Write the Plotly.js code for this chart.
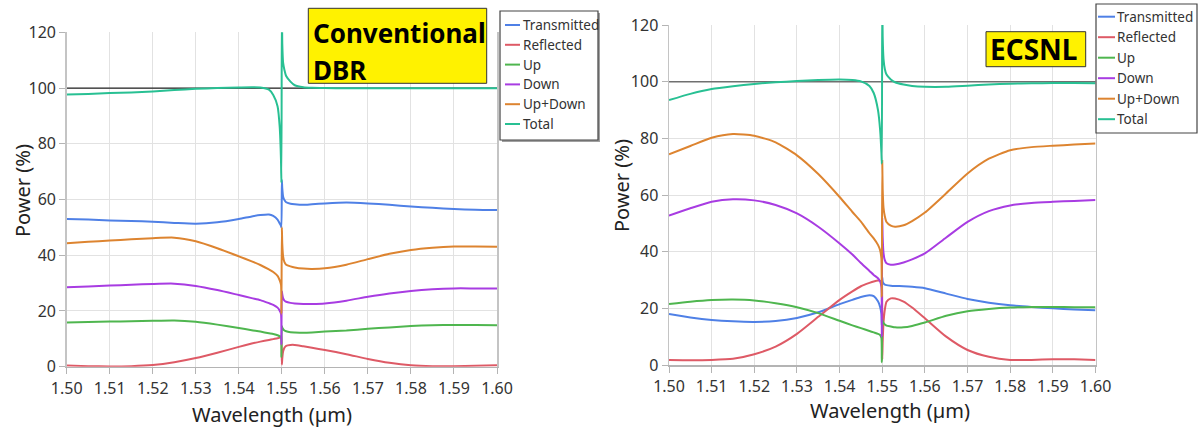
<!DOCTYPE html>
<html><head><meta charset="utf-8">
<script src="https://cdn.plot.ly/plotly-3.0.1.min.js"></script>
<style>html,body{margin:0;padding:0;background:#fff}#chart{width:1198px;height:430px}</style>
</head><body><div id="chart"></div>
<script>
// ---------------- data ----------------
const wavelength = [1.500,1.505,1.510,1.515,1.520,1.525,1.530,1.535,1.540,1.543,1.545,1.547,1.548,1.549,1.5495,1.5498,1.5499,1.5500,1.5501,1.5503,1.5506,1.551,1.552,1.553,1.555,1.557,1.560,1.565,1.570,1.575,1.580,1.585,1.590,1.595,1.600];
const seriesNames = ['Transmitted','Reflected','Up','Down','Up+Down','Total'];
const panelTitleLines = [['Conventional','DBR'],['ECSNL']];
const xTitle = 'Wavelength (µm)';
const yTitle = 'Power (%)';
const xTickVals = [1.50,1.51,1.52,1.53,1.54,1.55,1.56,1.57,1.58,1.59,1.60];
const xTickText = ['1.50','1.51','1.52','1.53','1.54','1.55','1.56','1.57','1.58','1.59','1.60'];
const yTickVals = [0,20,40,60,80,100,120];
const referenceLevel = 100;

// Conventional DBR (left)
const dbrTransmitted = [53.0,52.8,52.5,52.3,52.0,51.6,51.3,51.8,53.0,53.9,54.4,54.6,54.1,52.8,51.4,50.5,50.0,67.0,64.0,61.0,59.8,59.0,58.5,58.3,58.1,58.3,58.6,58.9,58.6,58.1,57.5,57.0,56.6,56.3,56.2];
const dbrReflected   = [0.4,0.2,0.1,0.2,0.6,1.6,3.1,5.0,7.1,8.3,9.0,9.6,9.9,10.2,10.4,10.8,11.0,0.8,3.0,5.5,6.8,7.5,7.8,7.8,7.3,6.8,6.0,4.5,2.8,1.4,0.5,0.2,0.2,0.3,0.5];
const dbrUp          = [15.9,16.0,16.2,16.3,16.5,16.6,16.1,15.1,13.9,13.1,12.6,12.0,11.7,11.3,10.9,10.4,3.5,14.5,14.0,13.5,13.0,12.7,12.4,12.3,12.2,12.3,12.6,13.0,13.6,14.1,14.6,14.9,15.0,15.0,14.9];
const dbrDown        = [28.5,28.8,29.1,29.4,29.7,29.8,29.0,27.5,25.7,24.6,23.9,22.8,22.2,21.2,20.1,19.0,8.0,27.0,26.0,24.5,23.7,23.3,22.9,22.7,22.5,22.5,22.7,23.7,25.1,26.3,27.2,27.8,28.1,28.1,28.1];
const dbrUpDown      = [44.3,44.8,45.3,45.7,46.1,46.3,45.0,42.5,39.6,37.8,36.5,34.9,34.0,32.6,31.0,29.5,19.0,50.0,44.0,39.5,37.5,36.6,36.0,35.6,35.2,35.1,35.3,36.6,38.6,40.5,41.9,42.7,43.1,43.1,43.0];
const dbrTotal       = [97.7,97.9,98.2,98.4,98.8,99.3,99.7,100.0,100.2,100.3,100.2,99.4,97.5,93.5,86.0,74.0,66.0,130.0,116.0,109.0,106.5,104.3,102.3,101.0,100.3,100.1,100.0,99.9,99.9,99.9,99.9,99.9,99.9,99.9,99.9];

// ECSNL (right)
const ecsnlTransmitted = [18.0,16.8,15.9,15.4,15.2,15.5,16.6,18.6,21.5,23.0,24.0,24.6,24.3,22.5,20.5,18.0,14.0,31.0,29.5,28.8,28.4,28.2,28.0,27.9,27.8,27.6,27.1,25.2,23.3,22.0,21.1,20.5,20.0,19.6,19.3];
const ecsnlReflected   = [1.8,1.7,1.8,2.2,3.8,6.5,11.0,17.0,23.0,26.0,27.8,29.0,29.5,29.8,29.7,29.3,29.0,2.0,8.0,15.0,19.5,22.3,23.5,23.5,22.4,20.3,16.5,10.0,5.3,2.9,1.8,1.8,2.0,2.0,1.8];
const ecsnlUp          = [21.5,22.3,22.9,23.1,22.8,21.8,20.4,18.3,15.6,14.0,13.0,12.0,11.5,11.0,10.6,9.5,1.0,16.0,15.5,14.8,14.3,13.9,13.6,13.3,13.3,13.8,15.0,17.4,19.0,19.8,20.3,20.5,20.5,20.4,20.4];
const ecsnlDown        = [52.7,55.3,57.6,58.5,58.1,56.5,53.5,48.8,42.9,39.0,36.0,33.2,31.8,30.6,29.5,27.5,10.0,52.0,45.0,39.5,37.0,35.9,35.4,35.5,36.2,37.3,39.4,45.0,50.5,54.3,56.3,57.2,57.6,57.9,58.2];
const ecsnlUpDown      = [74.4,77.3,80.2,81.5,80.9,78.6,74.0,67.4,59.3,54.0,50.6,46.5,44.7,42.4,40.5,37.5,24.0,72.0,62.0,55.5,52.5,50.5,49.2,48.8,49.3,50.8,53.8,60.6,67.6,72.8,75.8,76.9,77.4,77.8,78.2];
const ecsnlTotal       = [93.5,95.7,97.4,98.4,99.2,99.8,100.2,100.6,100.8,100.6,100.1,98.5,96.0,90.0,83.0,75.0,71.0,130.0,116.0,108.0,104.5,102.5,100.8,99.8,99.0,98.5,98.2,98.2,98.6,99.0,99.3,99.4,99.5,99.5,99.4];

// ---------------- style ----------------
const W = 1198, H = 430;
const FONT = 'Noto Sans, Open Sans, sans-serif';
const colors = ['#4f80e6','#de5a66','#4fb64f','#a83ce2','#dd8430','#28c093'];
const px = v => v / W, py = v => 1 - v / H;

const panels = [
  {series:[dbrTransmitted,dbrReflected,dbrUp,dbrDown,dbrUpDown,dbrTotal], xa:'x', ya:'y',
   xdom:[66.7,497], ydom:[366.7,32.3], refColor:'#222', refWidth:1.2, tickStandoff:1,
   xTitlePos:[272,414], yTitlePos:[23,191],
   legend:{x0:500,x1:598,y0:11,y1:140,l0:505,l1:520,t:521,r0:25,dr:19.8,shadow:true},
   box:{x0:308.3,x1:486.7,y0:8.3,y1:83.3,tx:311,lines:[33,70],size:26}},
  {series:[ecsnlTransmitted,ecsnlReflected,ecsnlUp,ecsnlDown,ecsnlUpDown,ecsnlTotal], xa:'x2', ya:'y2',
   xdom:[669,1095.5], ydom:[365,25], refColor:'#707070', refWidth:1.5, tickStandoff:0,
   xTitlePos:[890,410], yTitlePos:[622,186],
   legend:{x0:1096,x1:1197,y0:4,y1:133,l0:1098,l1:1115,t:1115,r0:16.7,dr:20.5,shadow:false},
   box:{x0:986,x1:1085.7,y0:31.7,y1:66.7,tx:988,lines:[49],size:28}}
];

const traces = [];
const shapes = [];
const annotations = [];
const layout = {
  width: W, height: H, margin:{l:0,r:0,t:0,b:0},
  paper_bgcolor:'#fff', plot_bgcolor:'#fff', showlegend:false,
  font:{family:FONT, color:'#333'}
};

panels.forEach((p, k) => {
  // reference line at 100 %, drawn first so the curves lie over it
  const xr = [xTickVals[0], xTickVals[xTickVals.length - 1]];
  traces.push({x: xr, y: xr.map(() => referenceLevel), type:'scatter', mode:'lines',
    xaxis:p.xa, yaxis:p.ya, hoverinfo:'skip', line:{color:p.refColor, width:p.refWidth}});
  p.series.forEach((vals, i) => {
    traces.push({x: wavelength, y: vals, name: seriesNames[i], type:'scatter', mode:'lines',
      xaxis: p.xa, yaxis: p.ya, hoverinfo:'name+x+y',
      line:{color: colors[i], width: 2, shape:'spline', smoothing:0.6}});
  });
  const sfx = k === 0 ? '' : '2';
  layout['xaxis'+sfx] = {
    domain:[px(p.xdom[0]), px(p.xdom[1])], range:[1.5,1.6], anchor:'y'+sfx,
    tickvals:xTickVals, ticktext:xTickText, showgrid:true, gridcolor:'#e2e2e2', gridwidth:1,
    showline:true, linecolor:'#b4b4b4', linewidth:1.5, ticks:'outside', ticklen:6, tickcolor:'#b4b4b4',
    ticklabelstandoff:p.tickStandoff, zeroline:false, tickfont:{size:16, color:'#333'}
  };
  layout['yaxis'+sfx] = {
    domain:[py(p.ydom[0]), py(p.ydom[1])], range:[0,120], anchor:'x'+sfx,
    tickvals:yTickVals, showgrid:true, gridcolor:'#e2e2e2', gridwidth:1,
    showline:true, mirror:true, linecolor:'#c4c4c4', linewidth:1.5, ticks:'outside', ticklen:6, tickcolor:'#b4b4b4',
    zeroline:false, tickfont:{size:16, color:'#333'}
  };
  // axis titles
  annotations.push({xref:'paper', yref:'paper', x:px(p.xTitlePos[0]), y:py(p.xTitlePos[1]), xanchor:'center', yanchor:'middle',
    text:xTitle, showarrow:false, font:{size:20, color:'#222', family:FONT}});
  annotations.push({xref:'paper', yref:'paper', x:px(p.yTitlePos[0]), y:py(p.yTitlePos[1]), xanchor:'center', yanchor:'middle',
    text:yTitle, textangle:-90, showarrow:false, font:{size:20, color:'#222', family:FONT}});
  // legend
  const L = p.legend;
  if (L.shadow) shapes.push({type:'rect', xref:'paper', yref:'paper', x0:px(L.x0+2), x1:px(L.x1+2), y0:py(L.y1+2), y1:py(L.y0+2),
    line:{width:0}, fillcolor:'#a0a0a0'});
  shapes.push({type:'rect', xref:'paper', yref:'paper', x0:px(L.x0), x1:px(L.x1), y0:py(L.y1), y1:py(L.y0),
    line:{color:'#444', width:1.2}, fillcolor:'#fff'});
  seriesNames.forEach((nm, i) => {
    const ry = L.r0 + L.dr * i;
    shapes.push({type:'line', xref:'paper', yref:'paper', x0:px(L.l0), x1:px(L.l1), y0:py(ry), y1:py(ry),
      line:{color:colors[i], width:2}});
    annotations.push({xref:'paper', yref:'paper', x:px(L.t), y:py(ry), xanchor:'left', yanchor:'middle',
      text:nm, showarrow:false, font:{size:13.5, color:'#333', family:FONT}});
  });
  // yellow title box
  const B = p.box;
  shapes.push({type:'rect', xref:'paper', yref:'paper', x0:px(B.x0), x1:px(B.x1), y0:py(B.y1), y1:py(B.y0),
    line:{color:'#333', width:1}, fillcolor:'#fff200'});
  panelTitleLines[k].forEach((txt, j) => {
    annotations.push({xref:'paper', yref:'paper', x:px(B.tx), y:py(B.lines[j]), xanchor:'left', yanchor:'middle',
      text:txt, showarrow:false, font:{size:B.size, color:'#000', family:FONT, weight:'bold'}});
  });
});

layout.shapes = shapes;
layout.annotations = annotations;
Plotly.newPlot('chart', traces, layout, {displayModeBar:false, staticPlot:true});
</script>
</body></html>
